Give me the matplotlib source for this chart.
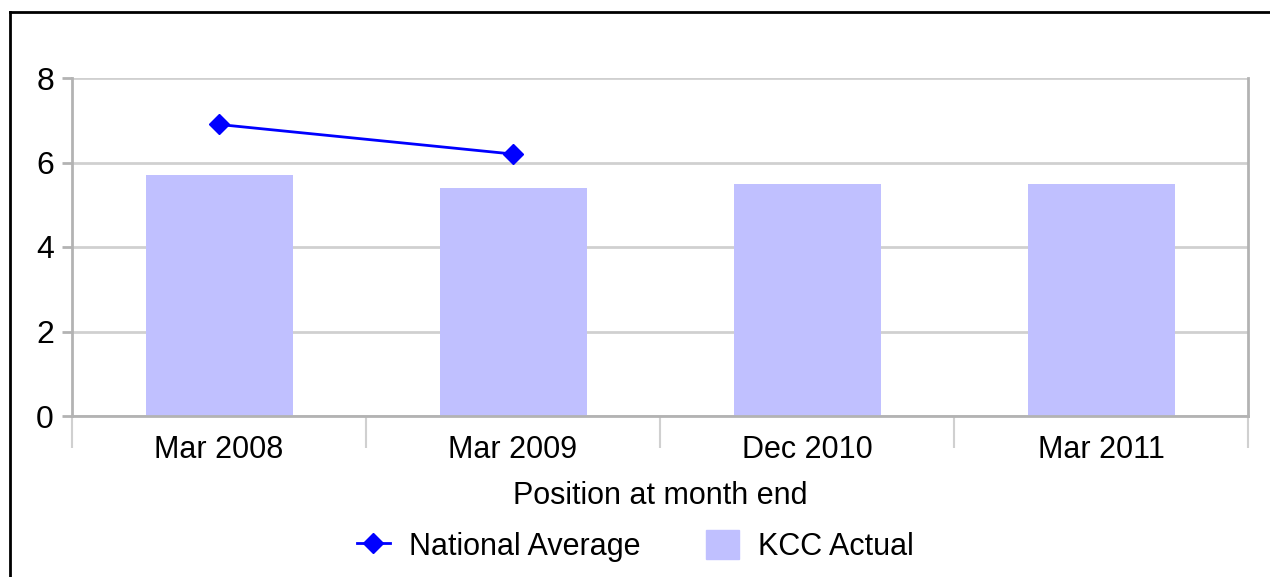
import numpy as np
import matplotlib.pyplot as plt
from matplotlib.lines import Line2D
from matplotlib.patches import Patch

plt.rcParams['font.family'] = ['Liberation Sans', 'DejaVu Sans']

categories = ["Mar 2008", "Mar 2009", "Dec 2010", "Mar 2011"]
kcc_actual = [5.7, 5.4, 5.5, 5.5]
national_avg = [6.9, 6.2]

fig = plt.figure(figsize=(12.7, 5.77), dpi=100)
ax = fig.add_axes([72 / 1270, 1 - 416 / 577, 1176 / 1270, 338 / 577])

x = np.arange(len(categories))
ax.bar(x, kcc_actual, width=0.5, color="#c0c0ff", zorder=2)
ax.plot(x[:len(national_avg)], national_avg, color="#0000ff", lw=2,
        marker="D", markersize=10, zorder=3)

ax.set_xlim(-0.5, len(categories) - 0.5)
ax.set_ylim(0, 8)
ax.set_yticks([0, 2, 4, 6, 8])
ax.set_xticks(x)
ax.set_xticklabels(categories)
ax.set_xticks(np.arange(-0.5, len(categories)), minor=True)
ax.grid(axis="y", color="#d0d0d0", lw=2, zorder=0)

grey = "#b3b3b3"
for s in ["left", "bottom", "right"]:
    ax.spines[s].set_color(grey)
    ax.spines[s].set_linewidth(2)
ax.spines["top"].set_visible(False)
ax.tick_params(axis="y", colors=grey, labelcolor="black", labelsize=23,
               length=7, width=2, pad=6)
ax.tick_params(axis="x", which="major", length=0, labelsize=22, pad=14)
ax.tick_params(axis="x", which="minor", colors="#d0d0d0", length=23, width=1.5)
ax.set_xlabel("Position at month end", fontsize=22, labelpad=11)

handles = [Line2D([], [], color="#0000ff", lw=2, marker="D", markersize=10),
           Patch(color="#c0c0ff")]
fig.legend(handles, ["National Average", "KCC Actual"], loc="center",
           bbox_to_anchor=(0.5, 1 - 546 / 577), ncol=2, frameon=False,
           fontsize=22, handlelength=1.1, handleheight=1.05, columnspacing=2.15,
           handletextpad=0.6)

# outer frame, only top and left edges show in the crop
fig.add_artist(Line2D([10 / 1270, 10 / 1270], [0, 1 - 12 / 577], color="black", lw=2))
fig.add_artist(Line2D([10 / 1270, 1], [1 - 12 / 577, 1 - 12 / 577], color="black", lw=2))

fig.savefig("out.png", dpi=100)
